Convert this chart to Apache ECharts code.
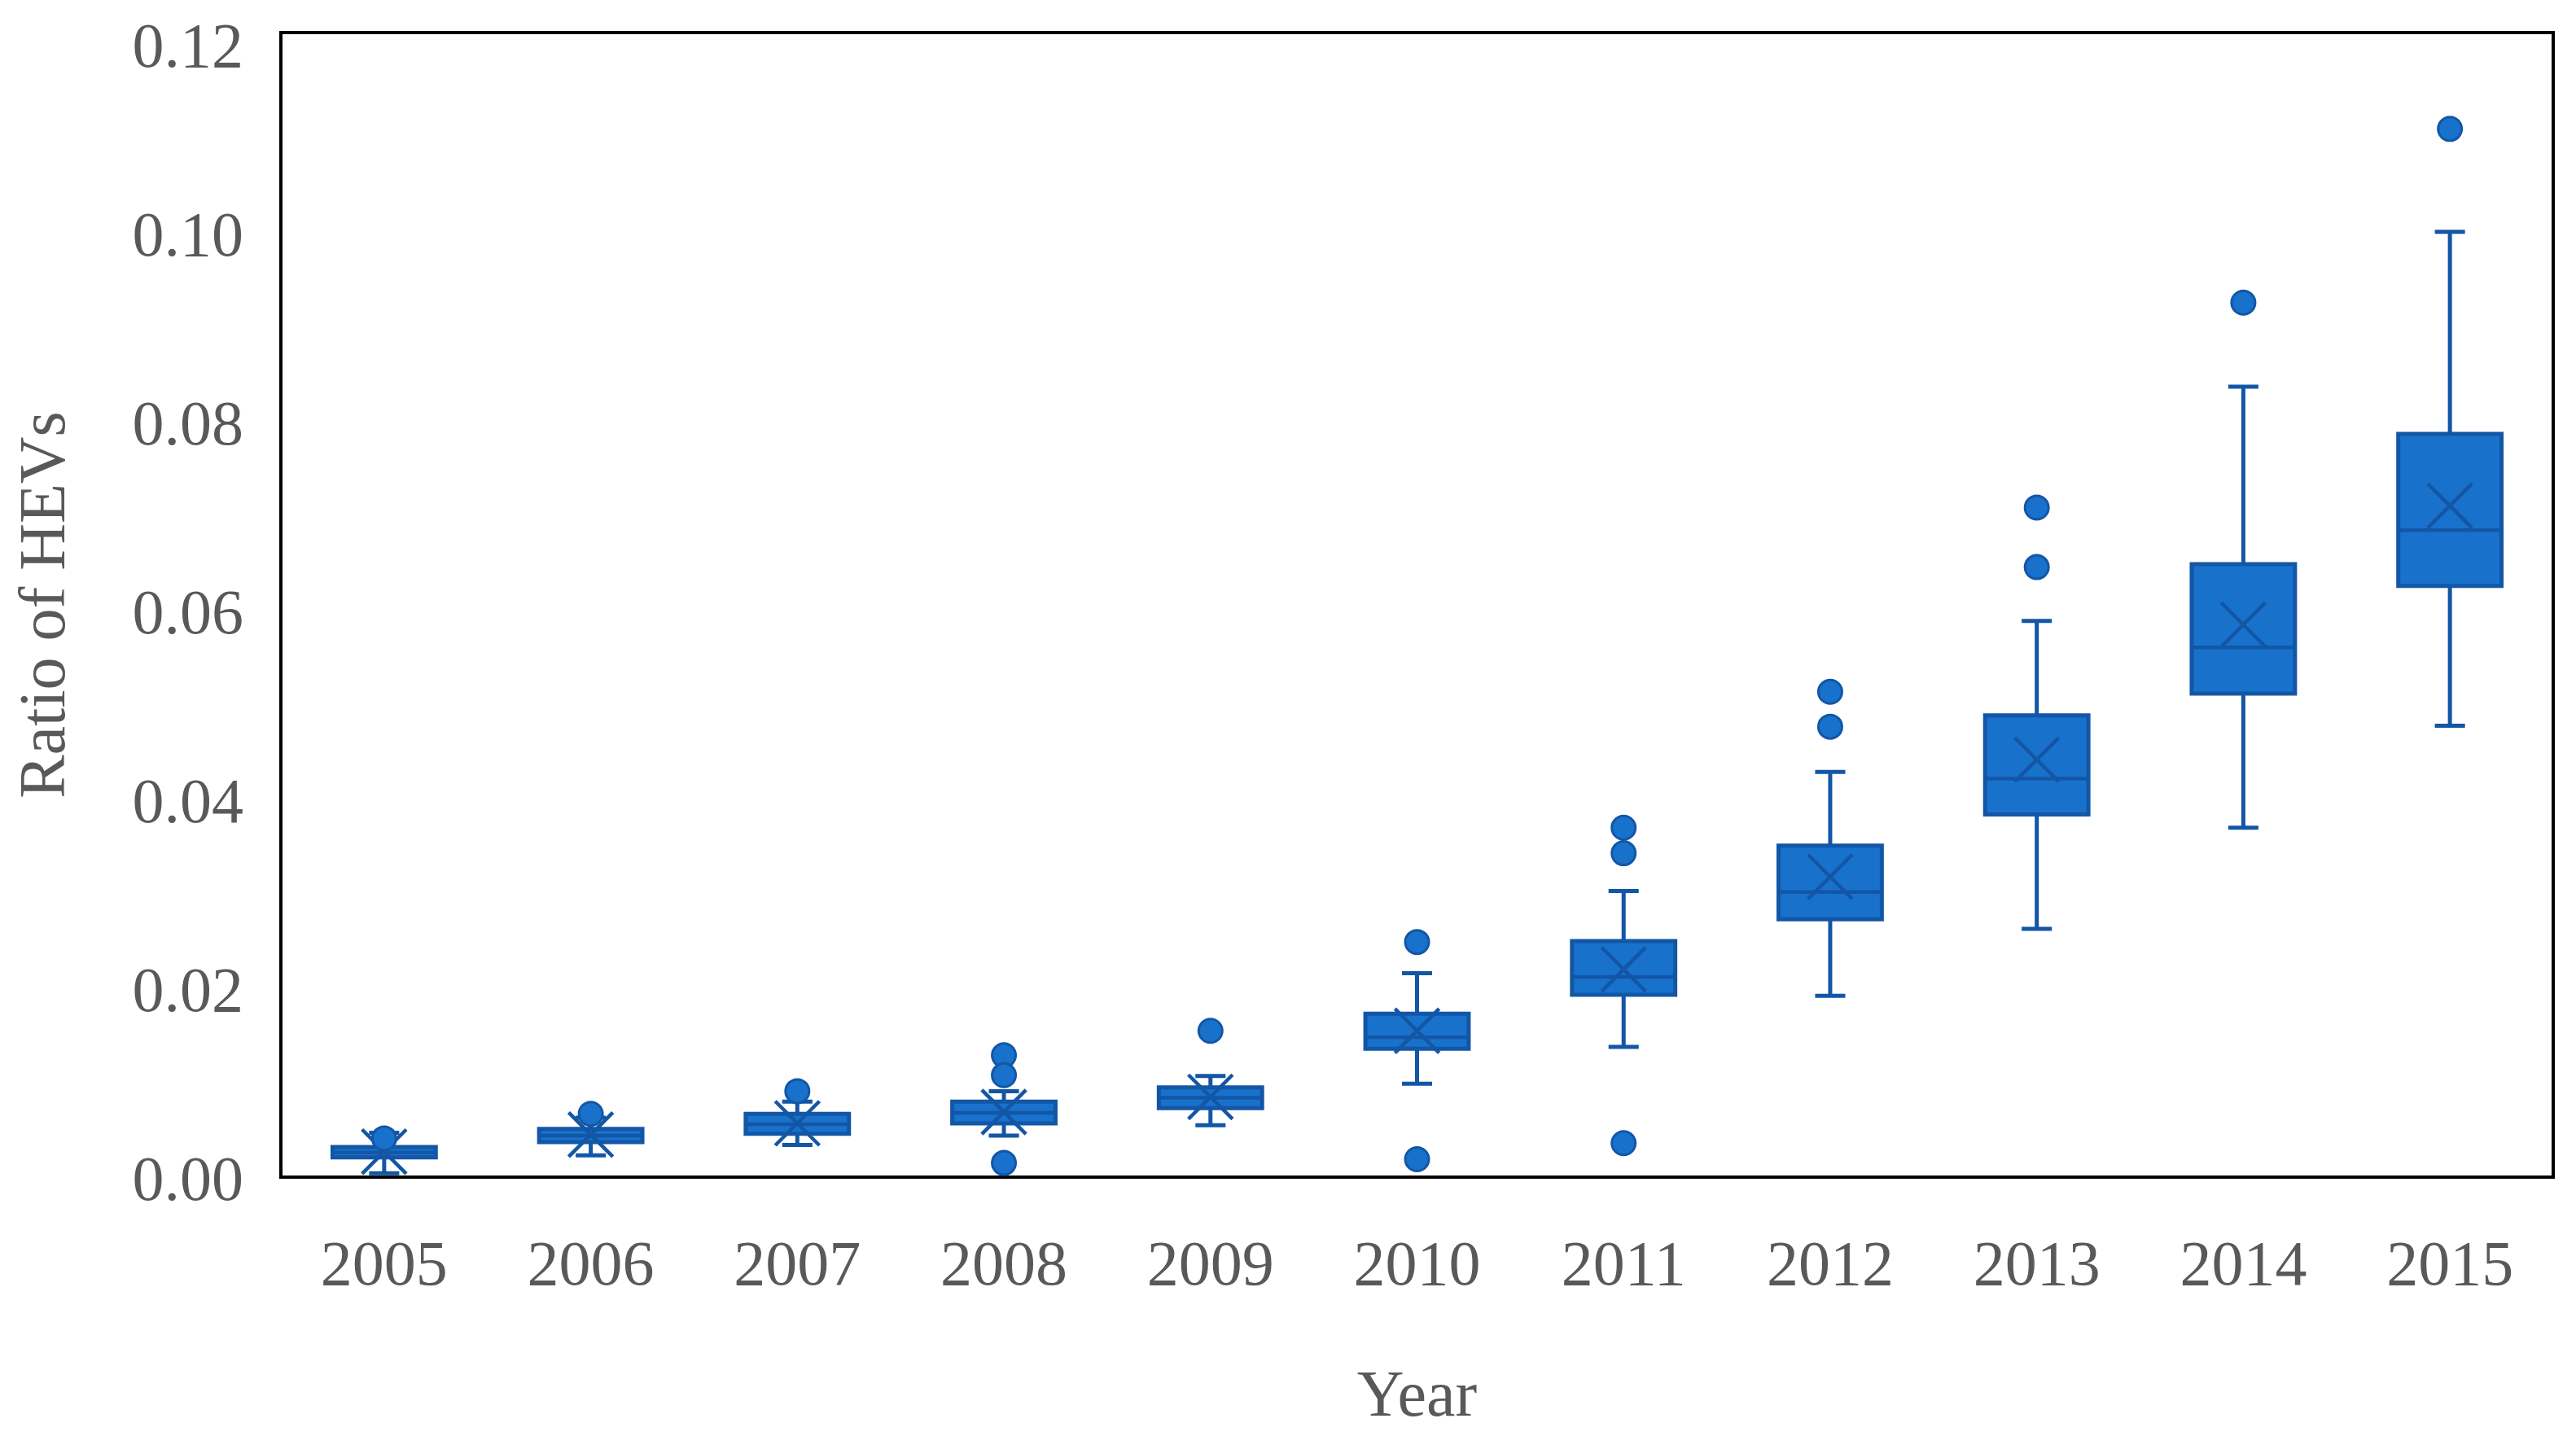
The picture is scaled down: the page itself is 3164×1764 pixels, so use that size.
<!DOCTYPE html>
<html>
<head>
<meta charset="utf-8">
<script src="https://cdn.jsdelivr.net/npm/echarts@6/dist/echarts.min.js"></script>
<style>
html,body{margin:0;padding:0;background:#fff;}
#chart{width:3164px;height:1764px;}
</style>
</head>
<body>
<div id="chart"></div>
<script>
var years = ['2005','2006','2007','2008','2009','2010','2011','2012','2013','2014','2015'];
var whiskerLow  = [0.0004, 0.0023, 0.0034, 0.0044, 0.0055, 0.0099, 0.0138, 0.0192, 0.0263, 0.0370, 0.0478];
var q1Values    = [0.0021, 0.0037, 0.0046, 0.0057, 0.0073, 0.0136, 0.0193, 0.0273, 0.0384, 0.0512, 0.0626];
var medianValues= [0.0026, 0.0044, 0.0056, 0.0068, 0.0084, 0.0148, 0.0212, 0.0302, 0.0422, 0.0561, 0.0685];
var q3Values    = [0.0032, 0.0051, 0.0067, 0.0080, 0.0095, 0.0173, 0.0250, 0.0351, 0.0489, 0.0649, 0.0787];
var whiskerHigh = [0.0047, 0.0063, 0.0080, 0.0091, 0.0107, 0.0216, 0.0303, 0.0429, 0.0589, 0.0837, 0.1001];
var meanValues  = [0.0027, 0.0045, 0.0057, 0.0069, 0.0085, 0.0155, 0.0220, 0.0318, 0.0442, 0.0585, 0.0711];
var outlierYears  = ['2005','2006','2007','2008','2008','2008','2009','2010','2010','2011','2011','2011','2012','2012','2013','2013','2014','2015'];
var outlierValues = [0.0041, 0.0067, 0.0091, 0.0129, 0.0108, 0.0015, 0.0155, 0.0249, 0.0019, 0.0370, 0.0343, 0.0036, 0.0514, 0.0477, 0.0709, 0.0646, 0.0926, 0.1110];
var yTickStep = 0.02;
var yAxisMax = 0.1212;

var FILL = '#1872CC', EDGE = '#1356A6';
var FONT = 'Liberation Serif';
var TEXT = '#595959';

var boxData = years.map(function(y, i){
  return [i, whiskerLow[i], q1Values[i], medianValues[i], q3Values[i], whiskerHigh[i], meanValues[i]];
});
var outlierData = outlierYears.map(function(y, i){ return [years.indexOf(y), outlierValues[i]]; });

function renderBox(params, api){
  var x = api.value(0);
  var band = api.size([1, 0])[0];
  var half = band * 0.25, cap = band * 0.073, xh = band * 0.107;
  var pMin = api.coord([x, api.value(1)]);
  var pQ1 = api.coord([x, api.value(2)]);
  var pMed = api.coord([x, api.value(3)]);
  var pQ3 = api.coord([x, api.value(4)]);
  var pMax = api.coord([x, api.value(5)]);
  var pMean = api.coord([x, api.value(6)]);
  var cx = pMed[0];
  var lineStyle = {stroke: EDGE, lineWidth: 5, fill: null};
  var thin = {stroke: EDGE, lineWidth: 4.5, fill: null};
  return {
    type: 'group',
    children: [
      {type:'line', shape:{x1:cx, y1:pQ1[1], x2:cx, y2:pMin[1]}, style:lineStyle},
      {type:'line', shape:{x1:cx, y1:pQ3[1], x2:cx, y2:pMax[1]}, style:lineStyle},
      {type:'line', shape:{x1:cx-cap, y1:pMin[1], x2:cx+cap, y2:pMin[1]}, style:lineStyle},
      {type:'line', shape:{x1:cx-cap, y1:pMax[1], x2:cx+cap, y2:pMax[1]}, style:lineStyle},
      {type:'rect', shape:{x:cx-half, y:pQ3[1], width:half*2, height:pQ1[1]-pQ3[1]},
        style:{fill: FILL, stroke: EDGE, lineWidth: 5}},
      {type:'line', shape:{x1:cx-half, y1:pMed[1], x2:cx+half, y2:pMed[1]}, style:thin},
      {type:'line', shape:{x1:cx-xh, y1:pMean[1]-xh, x2:cx+xh, y2:pMean[1]+xh}, style:thin},
      {type:'line', shape:{x1:cx-xh, y1:pMean[1]+xh, x2:cx+xh, y2:pMean[1]-xh}, style:thin}
    ]
  };
}

var chart = echarts.init(document.getElementById('chart'));
chart.setOption({
  animation: false,
  backgroundColor: '#fff',
  grid: {left: 345, right: 28, top: 40, bottom: 318, outerBoundsMode: 'none', containLabel: false,
    show: true, borderColor: '#000', borderWidth: 4, backgroundColor: 'transparent'},
  xAxis: {
    type: 'category', data: years, boundaryGap: true,
    name: 'Year', nameLocation: 'middle', nameGap: 232,
    nameTextStyle: {fontFamily: FONT, fontSize: 80, color: TEXT},
    axisLine: {show: false}, axisTick: {show: false}, splitLine: {show: false},
    axisLabel: {fontFamily: FONT, fontSize: 78, color: TEXT, margin: 73}
  },
  yAxis: {
    type: 'value', min: 0, max: yAxisMax, interval: yTickStep,
    name: 'Ratio of HEVs', nameLocation: 'middle', nameGap: 247, nameRotate: 90,
    nameTextStyle: {fontFamily: FONT, fontSize: 80, color: TEXT},
    axisLine: {show: false}, axisTick: {show: false}, splitLine: {show: false},
    axisLabel: {color: TEXT, margin: 46, showMaxLabel: false,
      formatter: function(v){ return '{t|' + v.toFixed(2) + '}'; },
      rich: {t: {fontFamily: FONT, fontSize: 78, color: TEXT, padding: [16, 0, 0, 0]}}}
  },
  series: [
    {type: 'custom', renderItem: renderBox, data: boxData, encode: {x: 0, y: [1,2,3,4,5,6]}, z: 2, clip: false},
    {type: 'scatter', data: outlierData, symbol: 'circle', symbolSize: 29,
      itemStyle: {color: FILL, borderColor: EDGE, borderWidth: 3, opacity: 1}, z: 3}
  ]
});
</script>
</body>
</html>
